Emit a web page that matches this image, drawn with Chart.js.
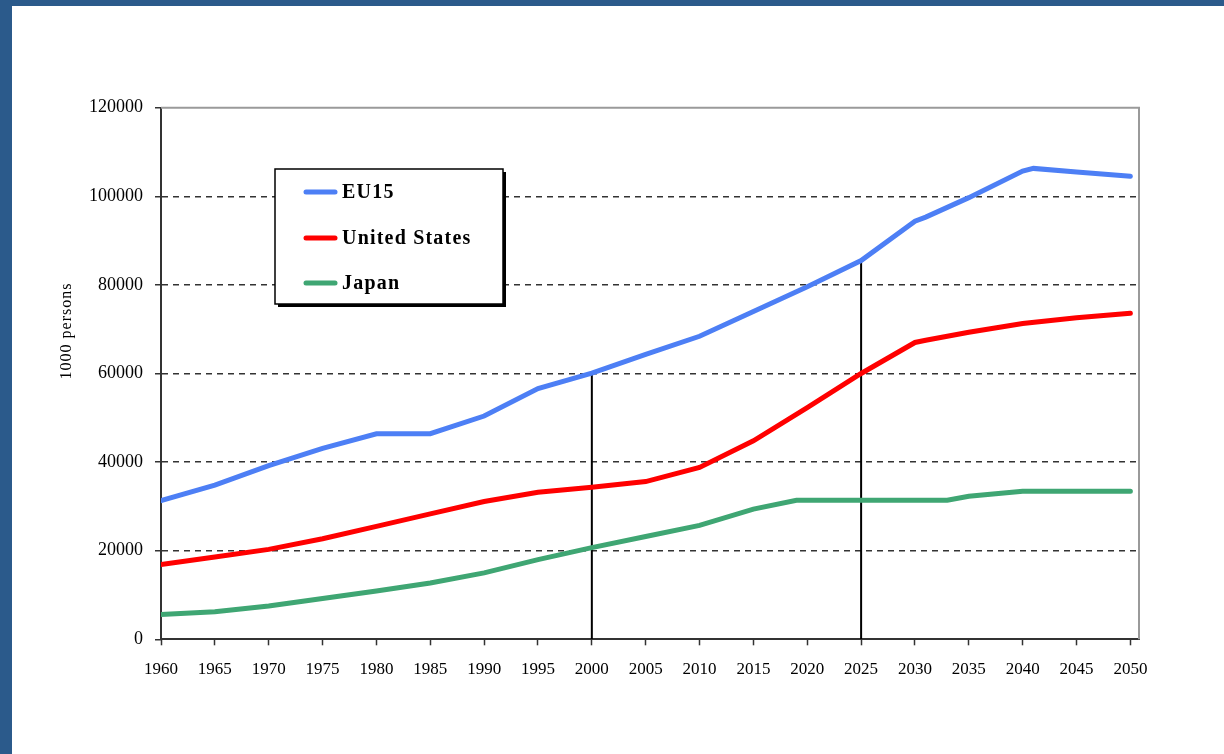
<!DOCTYPE html>
<html>
<head>
<meta charset="utf-8">
<script src="https://cdn.jsdelivr.net/npm/chart.js@4.4.0/dist/chart.umd.min.js"></script>
<style>
  body { margin: 0; background: #2b5a8b; }
  #wrap { position: absolute; left: 12px; top: 6px; width: 1212px; height: 748px; background: #fff; }
</style>
</head>
<body>
<div id="wrap"><canvas id="myChart"></canvas></div>
<script>
// years (extra years only where a line bends)
const years = [1960, 1965, 1970, 1975, 1980, 1985, 1990, 1995, 2000, 2005, 2010, 2015, 2019, 2020, 2025, 2030, 2031, 2033, 2035, 2040, 2041, 2045, 2050];
const eu15  = [31300, 34800, 39200, 43100, 46400, 46400, 50400, 56600, 60100, 64300, 68400, 74000, null, 79600, 85500, 94400, 95300, null, 99700, 105700, 106300, 105500, 104500];
const us    = [16900, 18600, 20300, 22700, 25500, 28300, 31100, 33200, 34300, 35600, 38800, 44800, null, 52300, 60000, 67000, 67500, null, 69300, 71300, null, 72600, 73600];
const japan = [5600, 6200, 7500, 9200, 10900, 12700, 15000, 18000, 20700, 23200, 25700, 29400, 31400, 31400, 31400, 31400, null, 31400, 32300, 33400, null, 33400, 33400];

const xTicks = [1960, 1965, 1970, 1975, 1980, 1985, 1990, 1995, 2000, 2005, 2010, 2015, 2020, 2025, 2030, 2035, 2040, 2045, 2050];
const markerYears = [2000, 2025];
const markerValues = [60100, 85500];
const yTitle = '1000 persons';

const serif = "'Liberation Serif', 'Times New Roman', serif";

const pts = arr => years.map((yr, i) => ({ x: yr, y: arr[i] }));

const series = [
  { label: 'EU15', data: pts(eu15), borderColor: '#4d7ff5' },
  { label: 'United States', data: pts(us), borderColor: '#ff0000' },
  { label: 'Japan', data: pts(japan), borderColor: '#3fa673' }
].map(d => Object.assign(d, { borderWidth: 5, pointRadius: 0, tension: 0, spanGaps: true, borderCapStyle: 'round' }));

const markers = markerYears.map((yr, i) => ({
  label: '',
  data: [{ x: yr, y: 0 }, { x: yr, y: markerValues[i] }],
  borderColor: '#000',
  borderWidth: 2,
  pointRadius: 0
}));

// gray frame on top and right of the plot
const plotFrame = {
  id: 'plotFrame',
  beforeDatasetsDraw(chart) {
    const { ctx, chartArea: a } = chart;
    ctx.save();
    ctx.strokeStyle = '#9a9a9a';
    ctx.lineWidth = 2;
    ctx.beginPath();
    ctx.moveTo(a.left, a.top);
    ctx.lineTo(a.right, a.top);
    ctx.lineTo(a.right, a.bottom);
    ctx.stroke();
    ctx.restore();
  }
};

// y title sits above the middle of the axis in the original
const sideTitle = {
  id: 'sideTitle',
  afterDraw(chart) {
    const ctx = chart.ctx;
    ctx.save();
    ctx.translate(55, 325);
    ctx.rotate(-Math.PI / 2);
    ctx.fillStyle = '#000';
    ctx.font = '16px ' + serif;
    ctx.textAlign = 'center';
    ctx.textBaseline = 'middle';
    if ('letterSpacing' in ctx) ctx.letterSpacing = '1px';
    ctx.fillText(yTitle, 0, 0);
    ctx.restore();
  }
};

// boxed legend with shadow, inside the plot
const boxLegend = {
  id: 'boxLegend',
  afterDraw(chart) {
    const ctx = chart.ctx;
    const x = 263, y = 163, w = 228, h = 135;
    ctx.save();
    ctx.fillStyle = '#000';
    ctx.fillRect(x + 3, y + 3, w, h);
    ctx.fillStyle = '#fff';
    ctx.fillRect(x, y, w, h);
    ctx.strokeStyle = '#000';
    ctx.lineWidth = 1.5;
    ctx.strokeRect(x, y, w, h);
    const rows = [186, 232, 277];
    chart.data.datasets.filter(d => d.label).forEach((d, i) => {
      ctx.strokeStyle = d.borderColor;
      ctx.lineWidth = 5;
      ctx.lineCap = 'round';
      ctx.beginPath();
      ctx.moveTo(294, rows[i]);
      ctx.lineTo(323, rows[i]);
      ctx.stroke();
      ctx.fillStyle = '#000';
      ctx.font = 'bold 20px ' + serif;
      ctx.textBaseline = 'middle';
      if ('letterSpacing' in ctx) ctx.letterSpacing = '1.2px';
      ctx.fillText(d.label, 330, rows[i] + 1);
    });
    ctx.restore();
  }
};

new Chart(document.getElementById('myChart'), {
  type: 'line',
  data: { datasets: series.concat(markers) },
  options: {
    responsive: true,
    maintainAspectRatio: false,
    animation: false,
    layout: { padding: { left: 0, top: 101.7, right: 85, bottom: 0 } },
    plugins: { legend: { display: false }, tooltip: { enabled: false } },
    scales: {
      x: {
        type: 'linear',
        min: 1960,
        max: 2050.8,
        afterBuildTicks: axis => { axis.ticks = xTicks.map(v => ({ value: v })); },
        afterFit: axis => { axis.height = 114.7; },
        ticks: { color: '#000', font: { family: serif, size: 17 }, padding: 14, maxRotation: 0, autoSkip: false, callback: v => v },
        grid: { drawOnChartArea: false, tickColor: '#333', tickLength: 6, tickWidth: 1.5 },
        border: { color: '#333', width: 2 }
      },
      y: {
        min: 0,
        max: 120000,
        afterFit: axis => { axis.width = 149; },
        ticks: { stepSize: 20000, color: '#000', font: { family: serif, size: 18 }, padding: 12, callback: v => v },
        grid: {
          color: c => (c.tick && (c.tick.value === 0 || c.tick.value === 120000)) ? 'rgba(0,0,0,0)' : '#333',
          lineWidth: 1.5,
          tickColor: '#333',
          tickLength: 6,
          tickWidth: 1.5
        },
        border: { color: '#333', width: 2, dash: [6, 5] }
      }
    }
  },
  plugins: [plotFrame, sideTitle, boxLegend]
});
</script>
</body>
</html>
